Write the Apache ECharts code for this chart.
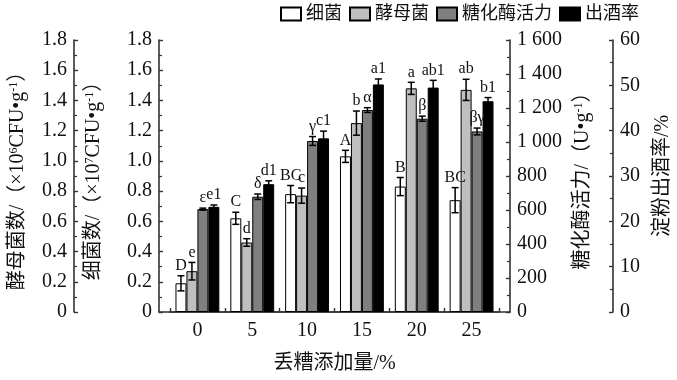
<!DOCTYPE html>
<html><head><meta charset="utf-8">
<script src="https://cdn.jsdelivr.net/npm/echarts@6/dist/echarts.min.js"></script>
<style>html,body{margin:0;padding:0;background:#fff}#c{width:677px;height:380px}</style>
</head><body><div id="c"></div>
<script>
const categories = ['0', '5', '10', '15', '20', '25'];
const seriesNames = ['细菌', '酵母菌', '糖化酶活力', '出酒率'];
const bacteria = [0.19, 0.62, 0.78, 1.03, 0.83, 0.74];
const bacteriaErr = [0.05, 0.04, 0.057, 0.04, 0.06, 0.083];
const bacteriaSig = ['D', 'C', 'BC', 'A', 'B', 'BC'];
const yeast = [0.27, 0.46, 0.77, 1.25, 1.48, 1.47];
const yeastErr = [0.058, 0.025, 0.05, 0.08, 0.04, 0.07];
const yeastSig = ['e', 'd', 'c', 'b', 'a', 'ab'];
const enzyme = [605, 678, 1006, 1188, 1137, 1062];
const enzymeErr = [6, 16, 26, 14, 15, 20];
const enzymeSig = ['ε', 'δ', 'γ', 'α', 'β', 'βγ'];
const yieldRate = [23.2, 28.2, 38.3, 50.2, 49.5, 46.5];
const yieldErr = [0.4, 0.74, 1.6, 1.2, 1.6, 0.8];
const yieldSig = ['e1', 'd1', 'c1', 'a1', 'ab1', 'b1'];
const countTicks = ['0', '0.2', '0.4', '0.6', '0.8', '1.0', '1.2', '1.4', '1.6', '1.8'];
const enzymeTicks = ['0', '200', '400', '600', '800', '1 000', '1 200', '1 400', '1 600'];
const yieldTicks = ['0', '10', '20', '30', '40', '50', '60'];

const SERIF = "'Liberation Serif', 'Noto Sans CJK SC', serif";
const colors = ['#ffffff', '#bfbfbf', '#7f7f7f', '#000000'];
const axisCol = '#333';

function yAx(pos, offset, max, interval, ticks, name, nameGap) {
  return {
    type: 'value', gridIndex: 0, position: pos, offset: offset, min: 0, max: max, interval: interval,
    axisLine: {show: true, lineStyle: {color: axisCol, width: 1.6}},
    axisTick: {show: true, inside: true, length: 4, lineStyle: {color: axisCol, width: 1.4}},
    minorTick: {show: true, splitNumber: 2, length: 3, lineStyle: {color: axisCol, width: 1.2}},
    splitLine: {show: false},
    axisLabel: {fontFamily: SERIF, fontSize: 20, color: '#111', margin: 7,
      formatter: v => ticks[Math.round(v / interval)]},
    name: name, nameLocation: 'middle', nameRotate: 90, nameGap: nameGap,
    nameTextStyle: {fontFamily: SERIF, fontSize: 20, color: '#111',
      rich: {sup: {fontFamily: SERIF, fontSize: 12, verticalAlign: 'top', color: '#111'}}}
  };
}

function errSeries(idx, vals, errs, sigs, yIndex) {
  return {
    type: 'custom', xAxisIndex: 0, yAxisIndex: yIndex, z: 10, silent: true,
    data: vals.map((v, i) => [i, v, errs[i]]),
    renderItem(params, api) {
      const i = api.value(0), v = api.value(1), e = api.value(2);
      const c = api.coord([i, v]);
      const band = api.size([1, 0])[0];
      const bw = band * 0.8 / 4;
      const x = c[0] + (idx - 1.5) * bw;
      const yTop = api.coord([i, v + e])[1];
      const yBot = api.coord([i, v - e])[1];
      const cap = 3.5;
      const st = {stroke: '#000', lineWidth: 1.5};
      return {type: 'group', children: [
        {type: 'line', shape: {x1: x, y1: yTop, x2: x, y2: yBot}, style: st},
        {type: 'line', shape: {x1: x - cap, y1: yTop, x2: x + cap, y2: yTop}, style: st},
        {type: 'line', shape: {x1: x - cap, y1: yBot, x2: x + cap, y2: yBot}, style: st},
        {type: 'text', x: x, y: yTop - 2, style: {text: sigs[i], align: 'center', verticalAlign: 'bottom',
          font: "16px 'Liberation Serif', serif", fill: '#111'}}
      ]};
    }
  };
}

function barSeries(idx, vals, yIndex) {
  return {
    name: seriesNames[idx], type: 'bar', xAxisIndex: 0, yAxisIndex: yIndex, data: vals,
    barGap: '0%', barCategoryGap: '20%',
    itemStyle: {color: colors[idx], borderColor: '#000', borderWidth: 1}
  };
}

const chart = echarts.init(document.getElementById('c'), null, {renderer: 'canvas'});
chart.setOption({
  animation: false,
  backgroundColor: '#fff',
  legend: {
    data: seriesNames, left: 280, top: 5, width: 397, itemWidth: 20, itemHeight: 13, itemGap: 7,
    padding: 0,
    textStyle: {fontFamily: SERIF, fontSize: 18, color: '#111'}, icon: 'rect'
  },
  grid: [
    {left: 170, top: 40, width: 329, height: 272},
    {left: 159, top: 40, width: 351, height: 272}
  ],
  xAxis: [
    {type: 'category', gridIndex: 0, data: categories,
      axisLine: {show: true, lineStyle: {color: axisCol, width: 1.6}},
      axisTick: {show: true, inside: true, length: 4, lineStyle: {color: axisCol, width: 1.4}},
      axisLabel: {fontFamily: SERIF, fontSize: 20, color: '#111', margin: 9},
      name: '丢糟添加量/%', nameLocation: 'middle', nameGap: 42,
      nameTextStyle: {fontFamily: SERIF, fontSize: 20, color: '#111'}},
    {type: 'value', gridIndex: 1, min: 0, max: 1,
      axisLine: {show: true, lineStyle: {color: axisCol, width: 1.6}},
      axisTick: {show: false}, axisLabel: {show: false}, splitLine: {show: false}}
  ],
  yAxis: [
    yAx('left', 96, 1.8, 0.2, countTicks, '酵母菌数/（×10{sup|6}CFU•g{sup|-1}）', 46),
    yAx('left', 11, 1.8, 0.2, countTicks, '细菌数/（×10{sup|7}CFU•g{sup|-1}）', 55),
    yAx('right', 11, 1600, 200, enzymeTicks, '糖化酶活力/（U•g{sup|-1}）', 63),
    yAx('right', 114, 60, 10, yieldTicks, '淀粉出酒率/%', 40),
    {type: 'value', gridIndex: 1, show: false, min: 0, max: 1}
  ],
  series: [
    barSeries(0, bacteria, 1),
    barSeries(1, yeast, 0),
    barSeries(2, enzyme, 2),
    barSeries(3, yieldRate, 3),
    errSeries(0, bacteria, bacteriaErr, bacteriaSig, 1),
    errSeries(1, yeast, yeastErr, yeastSig, 0),
    errSeries(2, enzyme, enzymeErr, enzymeSig, 2),
    errSeries(3, yieldRate, yieldErr, yieldSig, 3)
  ]
});
</script>
</body></html>
